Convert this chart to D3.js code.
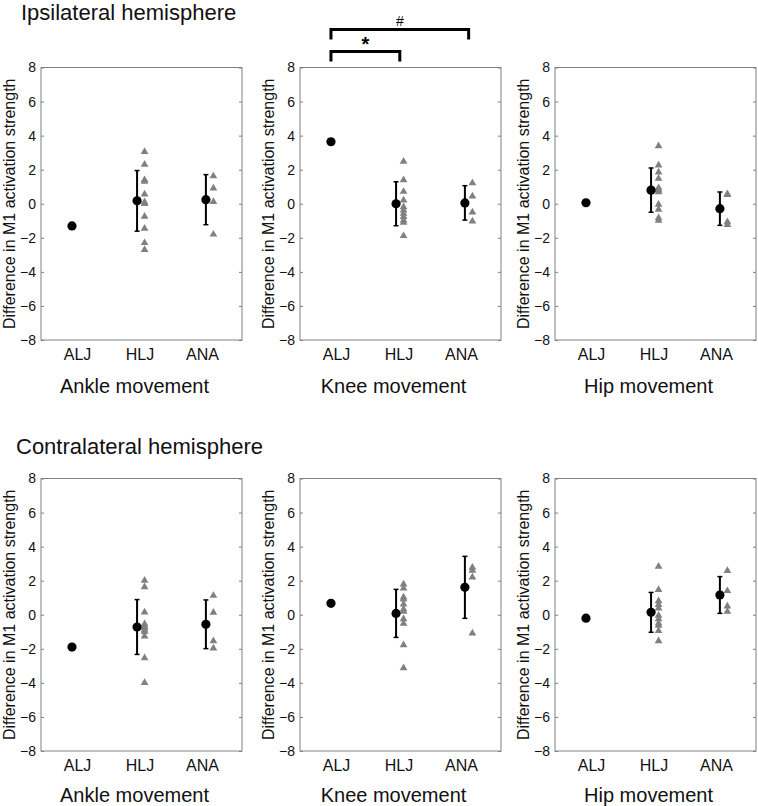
<!DOCTYPE html>
<html>
<head>
<meta charset="utf-8">
<script src="https://cdn.jsdelivr.net/npm/d3@7"></script>
<style>
  html, body { margin: 0; padding: 0; background: #fff; }
  svg { display: block; font-family: "Liberation Sans", Arial, sans-serif; }
</style>
</head>
<body>
<svg id="chart" width="758" height="806"></svg>
<script>
// ---------------- data ----------------
const hemispheres = ["Ipsilateral hemisphere", "Contralateral hemisphere"];
const movements = ["Ankle movement", "Knee movement", "Hip movement"];
const categories = ["ALJ", "HLJ", "ANA"];
const yTicks = [-8, -6, -4, -2, 0, 2, 4, 6, 8];
const yLabel = "Difference in M1 activation strength";

// ALJ: single value per movement (ankle, knee, hip)
const ipsiALJ   = [-1.30, 3.64, 0.06];
const contraALJ = [-1.90, 0.67, -0.20];

// group means (HLJ, ANA) per movement
const ipsiHLJMean   = [0.17, 0.00, 0.80];
const ipsiANAMean   = [0.24, 0.05, -0.29];
const contraHLJMean = [-0.72, 0.08, 0.14];
const contraANAMean = [-0.56, 1.61, 1.16];

// standard deviations (HLJ, ANA) per movement
const ipsiHLJSD   = [1.78, 1.29, 1.30];
const ipsiANASD   = [1.47, 1.01, 0.98];
const contraHLJSD = [1.61, 1.41, 1.17];
const contraANASD = [1.43, 1.82, 1.08];

// individual values
const ipsiHLJ = [
  [3.10, 2.35, 1.45, 1.35, 0.60, 0.15, 0.05, -0.70, -1.40, -2.25, -2.65],
  [2.53, 1.44, 0.76, 0.25, -0.14, -0.33, -0.53, -0.72, -0.92, -1.05, -1.84],
  [3.44, 2.31, 1.90, 1.53, 0.98, 0.85, 0.74, 0.00, -0.29, -0.79, -0.94]
];
const ipsiANA = [
  [1.67, 0.96, 0.16, -1.75],
  [1.27, 0.49, -0.45, -0.98],
  [0.62, 0.58, -1.02, -1.18]
];
const contraHLJ = [
  [2.06, 1.68, 0.20, -0.50, -0.62, -0.72, -0.85, -0.95, -1.22, -2.49, -3.95],
  [1.84, 1.60, 1.08, 0.96, 0.67, 0.37, 0.24, -0.20, -0.47, -1.73, -3.08],
  [2.88, 1.51, 0.86, 0.63, 0.43, 0.00, -0.20, -0.45, -0.59, -0.90, -1.49]
];
const contraANA = [
  [1.17, 0.18, -1.50, -1.92],
  [2.82, 2.65, 2.25, -1.04],
  [2.63, 1.45, 0.55, 0.24]
];

// significance (ipsilateral, knee movement)
const sigPairs = [
  { from: 1, to: 2, label: "*" },
  { from: 1, to: 3, label: "#" }
];

const rowsData = [
  { alj: ipsiALJ, hMean: ipsiHLJMean, aMean: ipsiANAMean, hSD: ipsiHLJSD, aSD: ipsiANASD, hVals: ipsiHLJ, aVals: ipsiANA },
  { alj: contraALJ, hMean: contraHLJMean, aMean: contraANAMean, hSD: contraHLJSD, aSD: contraANASD, hVals: contraHLJ, aVals: contraANA }
];

// ---------------- layout ----------------
const svg = d3.select("#chart");
const colX = [41, 300, 555];
const rowY = [67.5, 478.5];
const W = 201, H = 272.5;
const dodge = 3.75;
const axisColor = "#808080";
const triColor = "#808080";

const y = d3.scaleLinear().domain([-8, 8]).range([H, 0]);
const xm = d3.scaleLinear().domain([0.55, 3.47]).range([0, W]);   // marks
const xl = d3.scaleLinear().domain([0.424, 3.64]).range([0, W]);  // category labels

// hemisphere titles
svg.append("text").attr("x", 21).attr("y", 20).attr("font-size", 22).attr("fill", "#111").text(hemispheres[0]);
svg.append("text").attr("x", 16).attr("y", 454).attr("font-size", 22).attr("fill", "#111").text(hemispheres[1]);

const titleOffset = [53, 51];

rowsData.forEach((rd, r) => {
  movements.forEach((mv, c) => {
    const g = svg.append("g").attr("transform", `translate(${colX[c]},${rowY[r]})`);

    // box
    g.append("rect").attr("x", 0).attr("y", 0).attr("width", W).attr("height", H)
      .attr("fill", "none").attr("stroke", axisColor).attr("stroke-width", 1);

    // left axis
    const ya = g.append("g").call(d3.axisLeft(y).tickValues(yTicks).tickSize(-3).tickPadding(5));
    ya.select(".domain").remove();
    ya.selectAll("line").attr("stroke", axisColor);
    ya.selectAll("text").attr("font-size", 14).attr("fill", "#111").style("font-family", "inherit");

    // right ticks
    const yr = g.append("g").attr("transform", `translate(${W},0)`)
      .call(d3.axisRight(y).tickValues(yTicks).tickSize(-3).tickFormat(""));
    yr.select(".domain").remove();
    yr.selectAll("line").attr("stroke", axisColor);

    // category labels
    const xa = g.append("g").attr("transform", `translate(0,${H})`)
      .call(d3.axisBottom(xl).tickValues([1, 2, 3]).tickFormat(i => categories[i - 1]).tickSize(0).tickPadding(8.5));
    xa.select(".domain").remove();
    xa.selectAll("text").attr("font-size", 16).attr("fill", "#111").style("font-family", "inherit");

    // y label
    g.append("text")
      .attr("transform", `translate(-26,${H / 2}) rotate(-90)`)
      .attr("text-anchor", "middle").attr("font-size", 16).attr("fill", "#111")
      .text(yLabel);

    // movement title
    g.append("text").attr("x", W / 2 - 7).attr("y", H + titleOffset[r])
      .attr("text-anchor", "middle").attr("font-size", 20).attr("fill", "#111").text(mv);

    // individual triangles
    const tri = d3.symbol().type(d3.symbolTriangle).size(26);
    const groups = [
      { pos: 2, vals: rd.hVals[c], mean: rd.hMean[c], sd: rd.hSD[c] },
      { pos: 3, vals: rd.aVals[c], mean: rd.aMean[c], sd: rd.aSD[c] }
    ];
    groups.forEach(gr => {
      g.selectAll(null).data(gr.vals).enter().append("path")
        .attr("d", tri)
        .attr("transform", d => `translate(${xm(gr.pos) + dodge},${y(d) + 0.8})`)
        .attr("fill", triColor);
    });

    // error bars
    groups.forEach(gr => {
      const cx = xm(gr.pos) - dodge;
      const top = y(gr.mean + gr.sd), bot = y(gr.mean - gr.sd);
      g.append("line").attr("x1", cx).attr("x2", cx).attr("y1", top).attr("y2", bot)
        .attr("stroke", "#000").attr("stroke-width", 2);
      [top, bot].forEach(yy => {
        g.append("line").attr("x1", cx - 2.5).attr("x2", cx + 2.5).attr("y1", yy).attr("y2", yy)
          .attr("stroke", "#000").attr("stroke-width", 1.5);
      });
    });

    // means
    g.append("circle").attr("cx", xm(1)).attr("cy", y(rd.alj[c])).attr("r", 4.6).attr("fill", "#000");
    groups.forEach(gr => {
      g.append("circle").attr("cx", xm(gr.pos) - dodge).attr("cy", y(gr.mean)).attr("r", 4.6).attr("fill", "#000");
    });

    // significance brackets (ipsilateral knee)
    if (r === 0 && c === 1) {
      const levels = [{ top: -16, bot: -6 }, { top: -38, bot: -28 }];
      sigPairs.forEach((s, k) => {
        const lv = levels[k];
        const x1 = xm(s.from), x2 = xm(s.to);
        g.append("path")
          .attr("d", `M${x1},${lv.bot}V${lv.top}H${x2}V${lv.bot}`)
          .attr("fill", "none").attr("stroke", "#000").attr("stroke-width", 3)
          .attr("stroke-linejoin", "miter");
        g.append("text").attr("x", (x1 + x2) / 2)
          .attr("y", s.label === "*" ? lv.top - 1 : lv.top - 4)
          .attr("text-anchor", "middle")
          .attr("font-size", s.label === "*" ? 20 : 14)
          .attr("font-weight", s.label === "*" ? "bold" : "normal")
          .attr("fill", "#000").text(s.label);
      });
    }
  });
});
</script>
</body>
</html>
